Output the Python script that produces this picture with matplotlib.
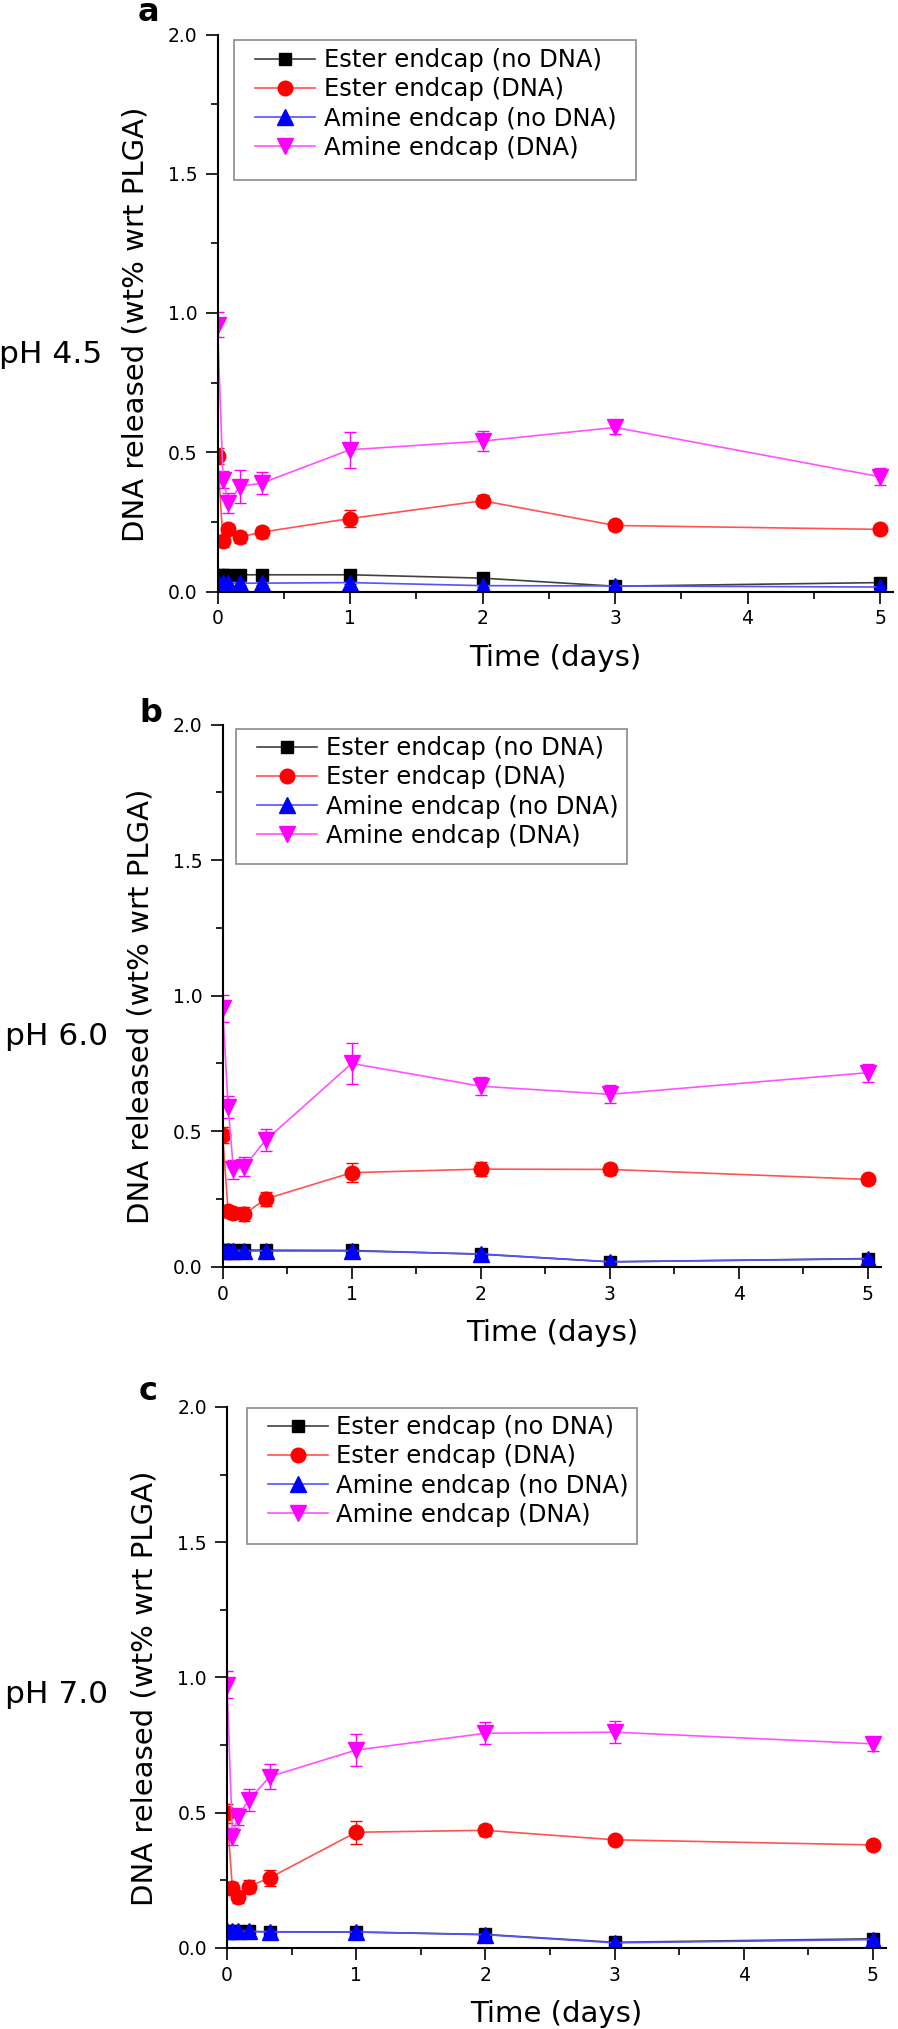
import matplotlib
matplotlib.use("Agg")
import matplotlib.pyplot as plt
from matplotlib.lines import Line2D
from matplotlib.patches import Rectangle
from matplotlib.ticker import MultipleLocator

# Tiempos de muestreo (dias)
time_days = [0, 0.042, 0.083, 0.167, 0.333, 1, 2, 3, 5]

series_labels = ["Ester endcap (no DNA)", "Ester endcap (DNA)",
                 "Amine endcap (no DNA)", "Amine endcap (DNA)"]
panel_letters = ["a", "b", "c"]
ph_labels = ["pH 4.5", "pH 6.0", "pH 7.0"]

# pH 4.5
ester_nodna_45 = [0.060, 0.060, 0.060, 0.060, 0.060, 0.060, 0.048, 0.019, 0.032]
ester_dna_45 = [0.487, 0.180, 0.224, 0.195, 0.213, 0.262, 0.326, 0.237, 0.223]
amine_nodna_45 = [0.030, 0.030, 0.030, 0.030, 0.030, 0.032, 0.021, 0.020, 0.016]
amine_dna_45 = [0.958, 0.401, 0.317, 0.377, 0.389, 0.509, 0.540, 0.589, 0.412]
ester_nodna_45_err = [0.008, 0.008, 0.008, 0.008, 0.008, 0.008, 0.006, 0.004, 0.005]
ester_dna_45_err = [0.030, 0.020, 0.020, 0.020, 0.020, 0.030, 0.020, 0.015, 0.015]
amine_nodna_45_err = [0.006, 0.006, 0.006, 0.006, 0.006, 0.006, 0.004, 0.004, 0.004]
amine_dna_45_err = [0.045, 0.030, 0.035, 0.060, 0.040, 0.065, 0.035, 0.025, 0.030]

# pH 6.0
ester_nodna_60 = [0.062, 0.062, 0.062, 0.062, 0.061, 0.060, 0.046, 0.018, 0.030]
ester_dna_60 = [0.485, 0.205, 0.197, 0.194, 0.250, 0.347, 0.360, 0.359, 0.322]
amine_nodna_60 = [0.058, 0.058, 0.058, 0.058, 0.058, 0.058, 0.047, 0.018, 0.029]
amine_dna_60 = [0.953, 0.590, 0.359, 0.369, 0.467, 0.750, 0.666, 0.636, 0.716]
ester_nodna_60_err = [0.008, 0.008, 0.008, 0.008, 0.008, 0.008, 0.006, 0.004, 0.005]
ester_dna_60_err = [0.030, 0.020, 0.020, 0.025, 0.025, 0.035, 0.025, 0.020, 0.015]
amine_nodna_60_err = [0.008, 0.008, 0.008, 0.008, 0.008, 0.008, 0.006, 0.004, 0.005]
amine_dna_60_err = [0.050, 0.040, 0.035, 0.035, 0.040, 0.074, 0.033, 0.033, 0.033]

# pH 7.0
ester_nodna_70 = [0.060, 0.060, 0.060, 0.060, 0.059, 0.058, 0.049, 0.020, 0.033]
ester_dna_70 = [0.497, 0.219, 0.186, 0.226, 0.259, 0.427, 0.434, 0.399, 0.380]
amine_nodna_70 = [0.060, 0.060, 0.060, 0.060, 0.058, 0.058, 0.048, 0.018, 0.030]
amine_dna_70 = [0.972, 0.411, 0.485, 0.546, 0.633, 0.731, 0.793, 0.797, 0.754]
ester_nodna_70_err = [0.008, 0.008, 0.008, 0.008, 0.008, 0.008, 0.006, 0.004, 0.005]
ester_dna_70_err = [0.035, 0.025, 0.020, 0.025, 0.030, 0.043, 0.020, 0.015, 0.015]
amine_nodna_70_err = [0.008, 0.008, 0.008, 0.008, 0.008, 0.008, 0.006, 0.004, 0.005]
amine_dna_70_err = [0.050, 0.030, 0.030, 0.040, 0.045, 0.060, 0.040, 0.040, 0.025]

panel_values = [
    [ester_nodna_45, ester_dna_45, amine_nodna_45, amine_dna_45],
    [ester_nodna_60, ester_dna_60, amine_nodna_60, amine_dna_60],
    [ester_nodna_70, ester_dna_70, amine_nodna_70, amine_dna_70],
]
panel_errors = [
    [ester_nodna_45_err, ester_dna_45_err, amine_nodna_45_err, amine_dna_45_err],
    [ester_nodna_60_err, ester_dna_60_err, amine_nodna_60_err, amine_dna_60_err],
    [ester_nodna_70_err, ester_dna_70_err, amine_nodna_70_err, amine_dna_70_err],
]

# Estilos de las series
marker_colors = ["black", "red", "blue", "magenta"]
line_colors = ["#404040", "#ff5252", "#5252ff", "#ff52ff"]
markers = ["s", "o", "^", "v"]
marker_sizes = [8.5, 10.5, 11, 11.5]

# Geometria en pixeles de la figura (izq, der, arriba, abajo)
W, H = 898, 2029
axes_px = [(217.5, 893.3, 34.5, 591.5),
           (222.7, 880.9, 724.7, 1266.7),
           (227.0, 885.8, 1406.9, 1947.7)]
legend_box_px = [(233.5, 635.7, 39.5, 179.5),
                 (236.4, 627.1, 729.1, 863.9),
                 (246.9, 637.1, 1408.2, 1544.3)]
legend_anchor_px = [(255.0, 48.3), (257.3, 736.3), (267.8, 1415.3)]
letter_px = [(138, 21), (139, 722), (139, 1400)]
ph_px = [(-1, 363), (5, 1045), (5, 1703)]

plt.rcParams["font.family"] = ["DejaVu Sans"]

fig = plt.figure(figsize=(W / 100, H / 100), dpi=100)


def fx(px):
    return px / W


def fy(py):
    return 1 - py / H


for i in range(3):
    left, right, top, bottom = axes_px[i]
    ax = fig.add_axes([fx(left), fy(bottom), (right - left) / W, (bottom - top) / H])

    for k in range(4):
        ax.errorbar(time_days, panel_values[i][k], yerr=panel_errors[i][k],
                    color=line_colors[k], lw=1.2, marker=markers[k],
                    ms=marker_sizes[k], mfc=marker_colors[k], mec=marker_colors[k],
                    ecolor=marker_colors[k], elinewidth=1.0, capsize=4,
                    capthick=1.0, zorder=2 + k * 0.1)

    ax.set_xlim(0, 5.1)
    ax.set_ylim(0, 2.0)
    ax.xaxis.set_major_locator(MultipleLocator(1))
    ax.xaxis.set_minor_locator(MultipleLocator(0.5))
    ax.yaxis.set_major_locator(MultipleLocator(0.5))
    ax.yaxis.set_minor_locator(MultipleLocator(0.25))
    ax.yaxis.set_major_formatter(plt.FormatStrFormatter("%.1f"))
    ax.spines["top"].set_visible(False)
    ax.spines["right"].set_visible(False)
    ax.spines["left"].set_linewidth(1.5)
    ax.spines["bottom"].set_linewidth(1.5)
    ax.tick_params(axis="both", which="major", direction="out", length=8.4,
                   width=1.2, labelsize=13.5)
    ax.tick_params(axis="both", which="minor", direction="out", length=4.8, width=1.2)
    ax.tick_params(axis="y", which="major", pad=6)
    ax.tick_params(axis="x", which="major", pad=4.5)

    h_px = bottom - top
    w_px = right - left
    ax.set_xlabel("Time (days)", fontsize=21, va="center")
    ax.xaxis.set_label_coords(0.5, -66 / h_px)
    ax.set_ylabel("DNA released (wt% wrt PLGA)", fontsize=21, va="center")
    ax.yaxis.set_label_coords(-82 / w_px, 0.5 - 11 / h_px)

    # Marco de la leyenda
    bl, br, bt, bb = legend_box_px[i]
    ax.add_patch(Rectangle((fx(bl), fy(bb)), (br - bl) / W, (bb - bt) / H,
                           transform=fig.transFigure, facecolor="white",
                           edgecolor="#8a8a8a", lw=1.2, clip_on=False, zorder=4))
    handles = [Line2D([], [], color=line_colors[k], lw=1.2, marker=markers[k],
                      ms=marker_sizes[k], mfc=marker_colors[k],
                      mec=marker_colors[k]) for k in range(4)]
    lx, ly = legend_anchor_px[i]
    leg = ax.legend(handles, series_labels, loc="upper left",
                    bbox_to_anchor=(fx(lx), fy(ly)), bbox_transform=fig.transFigure,
                    frameon=False, borderpad=0, borderaxespad=0, fontsize=17.5,
                    handlelength=2.47, handletextpad=0.35, labelspacing=0.21)
    leg.set_zorder(5)

    fig.text(fx(letter_px[i][0]), fy(letter_px[i][1]), panel_letters[i],
             fontsize=23, fontweight="bold", ha="left", va="baseline")
    fig.text(fx(ph_px[i][0]), fy(ph_px[i][1]), ph_labels[i],
             fontsize=22.5, ha="left", va="baseline")

fig.savefig("out.png", dpi=100)
